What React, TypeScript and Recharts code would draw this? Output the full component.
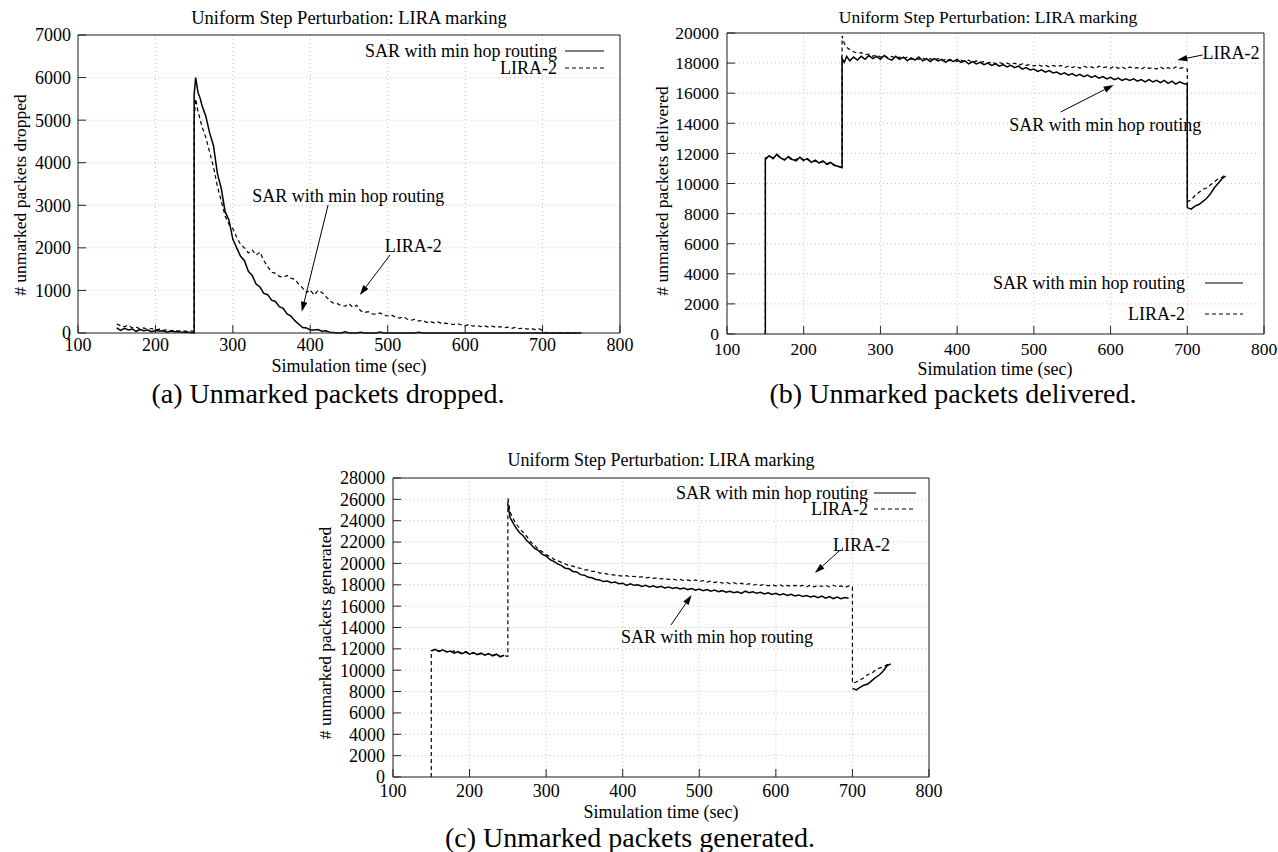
import React from "react";
import {
  LineChart,
  Line,
  XAxis,
  YAxis,
  CartesianGrid,
  ReferenceLine,
  ReferenceDot,
} from "recharts";

const SERIF = '"Liberation Serif", "Times New Roman", Times, serif';

const xTicks = [100, 200, 300, 400, 500, 600, 700, 800];
const yTicksDropped = [0, 1000, 2000, 3000, 4000, 5000, 6000, 7000];
const yTicksDelivered = [0, 2000, 4000, 6000, 8000, 10000, 12000, 14000, 16000, 18000, 20000];
const yTicksGenerated = [
  0, 2000, 4000, 6000, 8000, 10000, 12000, 14000, 16000, 18000, 20000, 22000, 24000, 26000, 28000,
];

const sarName = "SAR with min hop routing";
const liraName = "LIRA-2";

// (a) dropped packets
const timesA = [
  150, 155, 160, 165, 170, 175, 180, 185, 190, 195, 200, 205, 210, 215, 220, 225, 230, 235, 240, 245,
  250, 250, 252, 255, 258, 260,
  265, 270, 275, 280, 285, 290, 295, 300, 305, 310, 315, 320, 325, 330, 335, 340, 345, 350, 355, 360,
  365, 370, 375, 380, 385, 390, 395, 400, 405, 410, 415, 420, 425, 430, 435, 440, 445, 450, 455, 460,
  465, 470, 475, 480, 485, 490, 495, 500, 505, 510, 515, 520, 525, 530, 535, 540, 545, 550, 555, 560,
  565, 570, 575, 580, 585, 590, 595, 600, 605, 610, 615, 620, 625, 630, 635, 640, 645, 650, 655, 660,
  665, 670, 675, 680, 685, 690, 695, 700, 705, 710, 715, 720, 725, 730, 735, 740, 745, 750,
];
const sarDroppedA = [
  120, 60, 110, 70, 95, 40, 80, 55, 70, 30, 60, 45, 50, 20, 45, 30, 35, 15, 25, 10,
  0, 5600, 6000, 5650, 5500, 5350,
  5100, 4700, 4400, 3750, 3400, 2850, 2650, 2200, 2000, 1800,
  1700, 1450, 1350, 1150, 1080, 930, 900, 770, 740, 620,
  580, 450, 400, 290, 210, 130, 120, 70, 70, 80,
  40, 50, 20, 10, 0, 0, 30, 0, 0, 0,
  20, 0, 0, 0, 0, 25, 0, 0,
  0, 0, 0, 0, 0, 0, 0, 20, 0, 0,
  0, 0, 0, 0, 0, 0, 0, 0, 0, 0,
  0, 0, 0, 0, 0, 0, 0, 0, 0, 0,
  0, 0, 0, 0, 0, 0, 0, 0, 0, 0,
  0, 0, 0, 0, 0, 0, 0, 0, 0, 0,
];
const liraDroppedA = [
  210, 170, 150, 180, 120, 140, 100, 120, 85, 105, 70, 90, 60, 75, 50, 65, 45, 55, 40, 50,
  40, 5000, 5500, 5200, 5000, 4850,
  4600, 4250, 3900, 3450, 3100, 2750, 2550, 2450, 2250, 2080,
  2000, 1880, 1950, 1830, 1900, 1700, 1560, 1430, 1400, 1330,
  1310, 1350, 1290, 1260, 1150, 1060, 950, 1010, 890, 1000,
  950, 860, 760, 700, 690, 640, 630, 690, 600, 650,
  520, 480, 500, 450, 440, 470, 420, 400,
  420, 370, 350, 380, 330, 300, 320, 280, 300, 250,
  270, 240, 260, 220, 230, 210, 200, 220, 190, 170,
  200, 160, 180, 150, 170, 140, 160, 130, 150, 120,
  140, 110, 130, 100, 120, 90, 110, 80, 100, 60,
  0, 0, 0, 0, 0, 0, 0, 0, 0, 0,
];

// (b) and (c) share the sampling instants; steps at 150, 250 and 700
const stepTimes = [
  150, 150, 155, 160, 165, 170, 175, 180, 185, 190, 195, 200, 205, 210, 215, 220, 225, 230, 235, 240, 245, 250,
  250, 253, 256,
  260, 265, 270, 275, 280, 285, 290, 295, 300, 305,
  310, 315, 320, 325, 330, 335, 340, 345, 350, 355,
  360, 365, 370, 375, 380, 385, 390, 395, 400, 405,
  410, 415, 420, 425, 430, 435, 440, 445, 450, 455,
  460, 465, 470, 475, 480, 485, 490, 495, 500, 505,
  510, 515, 520, 525, 530, 535, 540, 545, 550, 555,
  560, 565, 570, 575, 580, 585, 590, 595, 600, 605,
  610, 615, 620, 625, 630, 635, 640, 645, 650, 655,
  660, 665, 670, 675, 680, 685, 690, 695, 700,
  700, 705, 710, 715, 720, 725, 730, 735, 740, 745, 750,
];

const sarDeliveredB = [
  0, 11600, 11850, 11650, 11950, 11700, 11550, 11800, 11600, 11500, 11750, 11550,
  11650, 11400, 11550, 11350, 11500, 11300, 11400, 11200, 11150, 11050,
  18300, 18050, 18450,
  18150, 18400, 18200, 18450, 18250, 18500, 18300, 18450, 18250, 18500,
  18300, 18200, 18450, 18250, 18400, 18150, 18350, 18200, 18400, 18150,
  18300, 18100, 18300, 18150, 18250, 18050, 18250, 18100, 18250, 18050,
  18150, 17950, 18100, 17950, 18050, 17900, 18000, 17850, 17950, 17800,
  17900, 17750, 17850, 17700, 17800, 17600, 17700, 17550, 17600, 17450,
  17550, 17400, 17500, 17350, 17400, 17250, 17350, 17200, 17300, 17150,
  17250, 17100, 17200, 17050, 17150, 17000, 17100, 16950, 17050, 16900,
  17000, 16850, 16950, 16850, 16950, 16800, 16900, 16750, 16900, 16750,
  16850, 16700, 16850, 16650, 16800, 16600, 16750, 16650, 16600,
  8400, 8300, 8500, 8600, 8800, 9000, 9300, 9700, 10000, 10300, 10500,
];
const liraDeliveredB = [
  0, 11700, 11800, 11700, 11900, 11650, 11600, 11750, 11550, 11600, 11700, 11500,
  11600, 11450, 11500, 11400, 11450, 11250, 11350, 11250, 11100, 11100,
  19800, 19300, 19050,
  18900, 18750, 18650, 18700, 18550, 18600, 18450, 18550, 18400, 18500,
  18350, 18450, 18300, 18400, 18300, 18400, 18250, 18350, 18250, 18350,
  18200, 18300, 18200, 18300, 18150, 18250, 18150, 18250, 18100, 18200,
  18100, 18200, 18050, 18150, 18050, 18100, 18000, 18100, 17950, 18050,
  17950, 18000, 17900, 18000, 17850, 17950, 17850, 17900, 17800, 17900,
  17800, 17850, 17750, 17850, 17750, 17850, 17700, 17800, 17700, 17800,
  17650, 17800, 17700, 17750, 17650, 17800, 17700, 17750, 17650, 17800,
  17650, 17750, 17600, 17750, 17650, 17700, 17600, 17750, 17650, 17700,
  17600, 17750, 17600, 17700, 17600, 17750, 17650, 17700, 17600,
  8800, 8900, 9200, 9400, 9600, 9700, 9900, 10100, 10300, 10400, 10600,
];

// SAR generated: no solid step lines visible in the picture, so the steps are gaps
const sarGeneratedC = [
  null, 11800, 11950, 11750, 11900, 11700, 11800, 11600, 11750, 11550, 11700, 11500,
  11650, 11450, 11600, 11400, 11550, 11350, 11500, 11250, 11400, null,
  25500, 24300, 23900,
  23400, 22900, 22600, 22100, 21800, 21400, 21200, 20850, 20700, 20350,
  20200, 19950, 19800, 19550, 19500, 19250, 19200, 18950, 18900, 18700,
  18650, 18500, 18450, 18300, 18350, 18200, 18250, 18100, 18150, 17950,
  18100, 17950, 18000, 17850, 17950, 17800, 17900, 17750, 17850, 17700,
  17800, 17650, 17750, 17600, 17700, 17550, 17650, 17500, 17600, 17450,
  17550, 17400, 17500, 17350, 17450, 17300, 17400, 17250, 17350, 17200,
  17400, 17250, 17350, 17200, 17300, 17150, 17250, 17100, 17200, 17050,
  17150, 17000, 17100, 16950, 17050, 16900, 17000, 16850, 16950, 16800,
  16950, 16750, 16900, 16700, 16850, 16700, 16800, 16750, null,
  8300, 8150, 8400, 8600, 8700, 9000, 9300, 9550, 9900, 10400, 10600,
];
const liraGeneratedC = [
  0, 11850, 11900, 11800, 11850, 11750, 11700, 11800, 11650, 11600, 11750, 11550,
  11600, 11500, 11550, 11450, 11500, 11400, 11450, 11300, 11350, 11300,
  26100, 24800, 24300,
  23800, 23300, 22900, 22500, 22000, 21700, 21300, 21100, 20800, 20650,
  20400, 20250, 20100, 19950, 19800, 19750, 19600, 19550, 19400, 19400,
  19250, 19250, 19100, 19100, 19000, 18950, 18900, 18850, 18800, 18850,
  18750, 18800, 18700, 18750, 18650, 18700, 18600, 18650, 18550, 18600,
  18500, 18550, 18450, 18500, 18400, 18450, 18350, 18450, 18300, 18400,
  18250, 18350, 18200, 18300, 18150, 18250, 18100, 18200, 18050, 18150,
  18000, 18100, 17950, 18050, 17950, 18050, 17900, 18000, 17900, 18000,
  17850, 17950, 17850, 17950, 17850, 17950, 17800, 17950, 17800, 17950,
  17850, 17950, 17800, 17950, 17800, 17900, 17750, 17900, 17800,
  8800, 8900, 9100, 9300, 9600, 9700, 10000, 10200, 10300, 10500, 10700,
];

type Note = { text: string; at: [number, number]; from: [number, number]; to: [number, number] };

// annotation anchors, in data units
const notesA: Note[] = [
  { text: sarName, at: [449, 3218], from: [423, 3007], to: [389, 500] },
  { text: liraName, at: [533, 2044], from: [503, 1832], to: [464, 893] },
];
const notesB: Note[] = [
  { text: liraName, at: [757, 18671], from: [720, 18540], to: [687, 18200] },
  { text: sarName, at: [593, 13888], from: [535, 14752], to: [604, 16546] },
];
const notesC: Note[] = [
  { text: liraName, at: [712, 21727], from: [684, 21259], to: [651, 19105] },
  { text: sarName, at: [523, 13111], from: [463, 14235], to: [490, 17044] },
];

const toRows = (times: number[], sar: (number | null)[], lira: (number | null)[]) =>
  times.map((t, i) => ({ t, sar: sar[i], lira: lira[i] }));

const Arrow = (props: any) => {
  const { x1, y1, x2, y2 } = props;
  const a = Math.atan2(y2 - y1, x2 - x1);
  const len = 10;
  const half = 3.2;
  const bx = x2 - len * Math.cos(a);
  const by = y2 - len * Math.sin(a);
  const pts = [
    `${x2},${y2}`,
    `${bx + half * Math.sin(a)},${by - half * Math.cos(a)}`,
    `${bx - half * Math.sin(a)},${by + half * Math.cos(a)}`,
  ].join(" ");
  return (
    <g>
      <line x1={x1} y1={y1} x2={bx} y2={by} stroke="#000" strokeWidth={1} />
      <polygon points={pts} fill="#000" />
    </g>
  );
};

type PanelProps = {
  left: number;
  top: number;
  width: number;
  height: number;
  margin: { top: number; right: number; bottom: number; left: number };
  yWidth: number;
  yTicks: number[];
  rows: { t: number; sar: number | null; lira: number | null }[];
  notes: Note[];
  xGap: number;
  yGap: number;
  fontSize: number;
};

const axisStroke = { stroke: "#222", strokeWidth: 1 };

const Panel = ({ left, top, width, height, margin, yWidth, yTicks, rows, notes, xGap, yGap, fontSize }: PanelProps) => {
  const yMax = yTicks[yTicks.length - 1];
  const tickFont = { fill: "#000", fontSize, fontFamily: SERIF };
  return (
    <div style={{ position: "absolute", left, top }}>
      <LineChart width={width} height={height} data={rows} margin={margin}>
        <CartesianGrid stroke="#c4c4c4" strokeDasharray="1 3" />
        <XAxis
          dataKey="t"
          type="number"
          domain={[100, 800]}
          ticks={xTicks}
          interval={0}
          height={30}
          tickSize={-8}
          tickMargin={xGap}
          axisLine={axisStroke}
          tickLine={axisStroke}
          tick={tickFont}
        />
        <XAxis
          xAxisId="top"
          orientation="top"
          type="number"
          domain={[100, 800]}
          ticks={xTicks}
          interval={0}
          height={1}
          tickSize={-8}
          axisLine={axisStroke}
          tickLine={axisStroke}
          tick={false}
        />
        <YAxis
          type="number"
          domain={[0, yMax]}
          ticks={yTicks}
          interval={0}
          width={yWidth}
          tickSize={-8}
          tickMargin={yGap}
          axisLine={axisStroke}
          tickLine={axisStroke}
          tick={tickFont}
        />
        <YAxis
          yAxisId="right"
          orientation="right"
          type="number"
          domain={[0, yMax]}
          ticks={yTicks}
          interval={0}
          width={1}
          tickSize={-8}
          axisLine={axisStroke}
          tickLine={axisStroke}
          tick={false}
        />
        <Line
          type="linear"
          dataKey="sar"
          stroke="#000"
          strokeWidth={1.5}
          dot={false}
          isAnimationActive={false}
        />
        <Line
          type="linear"
          dataKey="lira"
          stroke="#000"
          strokeWidth={1.2}
          strokeDasharray="4 3"
          dot={false}
          isAnimationActive={false}
        />
        {notes.map((n) => (
          <ReferenceLine
            key={"arrow-" + n.text}
            segment={[
              { x: n.from[0], y: n.from[1] },
              { x: n.to[0], y: n.to[1] },
            ]}
            shape={Arrow}
          />
        ))}
        {notes.map((n) => (
          <ReferenceDot
            key={"note-" + n.text}
            x={n.at[0]}
            y={n.at[1]}
            r={0}
            shape={(p: any) => (
              <text
                x={p.cx}
                y={p.cy}
                textAnchor="middle"
                dominantBaseline="central"
                fontFamily={SERIF}
                fontSize={18}
                fill="#000"
              >
                {n.text}
              </text>
            )}
          />
        ))}
      </LineChart>
    </div>
  );
};

const Key = ({ textEnd, y1, y2, x1, x2 }: { textEnd: number; y1: number; y2: number; x1: number; x2: number }) => (
  <g fontFamily={SERIF} fontSize={18} fill="#000">
    <text x={textEnd} y={y1} textAnchor="end" dominantBaseline="central">
      {sarName}
    </text>
    <line x1={x1} x2={x2} y1={y1} y2={y1} stroke="#000" strokeWidth={1.2} />
    <text x={textEnd} y={y2} textAnchor="end" dominantBaseline="central">
      {liraName}
    </text>
    <line x1={x1} x2={x2} y1={y2} y2={y2} stroke="#000" strokeWidth={1} strokeDasharray="4 3" />
  </g>
);

const Centered = ({ x, y, size, children, rotate }: { x: number; y: number; size: number; children: string; rotate?: boolean }) => (
  <text
    x={x}
    y={y}
    textAnchor="middle"
    dominantBaseline="central"
    fontFamily={SERIF}
    fontSize={size}
    fill="#000"
    transform={rotate ? `rotate(-90 ${x} ${y})` : undefined}
  >
    {children}
  </text>
);

const TITLE = "Uniform Step Perturbation: LIRA marking";
const XLABEL = "Simulation time (sec)";

export default function App() {
  return (
    <div style={{ position: "absolute", left: 0, top: 0, width: 1278, height: 852, background: "#fff" }}>
      <Panel
        left={0}
        top={0}
        width={640}
        height={400}
        margin={{ top: 34, right: 19, bottom: 37, left: 0 }}
        yWidth={78}
        yTicks={yTicksDropped}
        rows={toRows(timesA, sarDroppedA, liraDroppedA)}
        notes={notesA}
        xGap={13}
        yGap={15}
        fontSize={18}
      />
      <Panel
        left={640}
        top={0}
        width={638}
        height={400}
        margin={{ top: 32, right: 13, bottom: 36, left: 0 }}
        yWidth={87}
        yTicks={yTicksDelivered}
        rows={toRows(stepTimes, sarDeliveredB, liraDeliveredB)}
        notes={notesB}
        xGap={17}
        yGap={16}
        fontSize={17.5}
      />
      <Panel
        left={300}
        top={420}
        width={660}
        height={400}
        margin={{ top: 57, right: 30, bottom: 13, left: 0 }}
        yWidth={93}
        yTicks={yTicksGenerated}
        rows={toRows(stepTimes, sarGeneratedC, liraGeneratedC)}
        notes={notesC}
        xGap={15}
        yGap={16}
        fontSize={18}
      />
      <svg
        width={1278}
        height={852}
        style={{ position: "absolute", left: 0, top: 0, pointerEvents: "none" }}
      >
        <Centered x={349} y={18} size={18.5}>{TITLE}</Centered>
        <Centered x={988} y={17} size={17.5}>{TITLE}</Centered>
        <Centered x={661} y={460} size={18}>{TITLE}</Centered>

        <Centered x={349} y={366} size={18}>{XLABEL}</Centered>
        <Centered x={995} y={369} size={18}>{XLABEL}</Centered>
        <Centered x={661} y={812} size={18}>{XLABEL}</Centered>

        <Centered x={20} y={195} size={17.5} rotate>
          # unmarked packets dropped
        </Centered>
        <Centered x={662} y={191} size={17.5} rotate>
          # unmarked packets delivered
        </Centered>
        <Centered x={325} y={633} size={17.5} rotate>
          # unmarked packets generated
        </Centered>

        <Key textEnd={557} y1={51} y2={68} x1={565} x2={604} />
        <Key textEnd={1185} y1={283} y2={314} x1={1205} x2={1243} />
        <Key textEnd={868} y1={493} y2={509} x1={874} x2={916} />

        <Centered x={328} y={393} size={28}>(a) Unmarked packets dropped.</Centered>
        <Centered x={953} y={393} size={28}>(b) Unmarked packets delivered.</Centered>
        <Centered x={630} y={837} size={28}>(c) Unmarked packets generated.</Centered>
      </svg>
    </div>
  );
}
